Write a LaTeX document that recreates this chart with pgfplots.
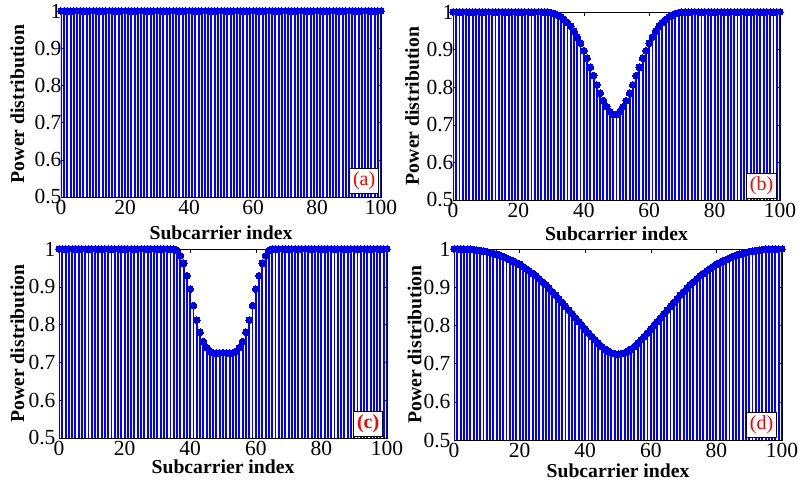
\documentclass[border=0pt]{standalone}
\usepackage{fontspec}
\setmainfont{Liberation Serif}
\usepackage{pgfplots}
\pgfplotsset{compat=1.18}
\definecolor{stemblue}{RGB}{0,0,255}
\pgfplotsset{panel/.style={
  scale only axis, anchor=south west,
  xmin=0, xmax=100, ymin=0.5, ymax=1,
  xtick={0,20,40,60,80,100}, ytick={0.5,0.6,0.7,0.8,0.9,1},
  xticklabels={0,20,40,60,80,100}, yticklabels={0.5,0.6,0.7,0.8,0.9,1},
  tick align=inside, major tick length=4pt,
  tick style={black, line width=0.6pt},
  axis line style={black, line width=0.8pt},
  ticklabel style={font=\fontsize{21.5}{24}\selectfont},
  label style={font=\fontsize{19.7}{22}\selectfont\bfseries},
  xlabel={Subcarrier index}, ylabel={Power distribution},
  every axis plot/.append style={ycomb, color=stemblue, line width=1.9pt,
    mark=*, mark size=3.4pt, mark options={fill=stemblue, draw=stemblue, line width=0pt}},
}}
\tikzset{tag/.style={draw=black, fill=white, text=red, inner sep=3.5pt, anchor=south east,
  font=\fontsize{20}{22}\selectfont, line width=0.6pt}}
\begin{document}
\begin{tikzpicture}
\useasboundingbox (0pt,0pt) rectangle (798pt,483pt);
% (a)
\begin{axis}[panel, at={(61pt,286pt)}, width=320pt, height=186pt,
  yticklabel style={xshift=4pt},
  xlabel style={at={(axis description cs:0.5,-0.231)}, anchor=base},
  ylabel style={at={(axis description cs:-0.136,0.5)}, anchor=center}]
\addplot coordinates {(0,1)(1,1)(2,1)(3,1)(4,1)(5,1)(6,1)(7,1)(8,1)(9,1)(10,1)(11,1)(12,1)(13,1)(14,1)(15,1)(16,1)(17,1)(18,1)(19,1)(20,1)(21,1)(22,1)(23,1)(24,1)(25,1)(26,1)(27,1)(28,1)(29,1)(30,1)(31,1)(32,1)(33,1)(34,1)(35,1)(36,1)(37,1)(38,1)(39,1)(40,1)(41,1)(42,1)(43,1)(44,1)(45,1)(46,1)(47,1)(48,1)(49,1)(50,1)(51,1)(52,1)(53,1)(54,1)(55,1)(56,1)(57,1)(58,1)(59,1)(60,1)(61,1)(62,1)(63,1)(64,1)(65,1)(66,1)(67,1)(68,1)(69,1)(70,1)(71,1)(72,1)(73,1)(74,1)(75,1)(76,1)(77,1)(78,1)(79,1)(80,1)(81,1)(82,1)(83,1)(84,1)(85,1)(86,1)(87,1)(88,1)(89,1)(90,1)(91,1)(92,1)(93,1)(94,1)(95,1)(96,1)(97,1)(98,1)(99,1)(100,1)};
\node[tag, xshift=-2pt, yshift=3pt] at (rel axis cs:1,0) {(a)};
\end{axis}
% (b)
\begin{axis}[panel, at={(453pt,283pt)}, width=327pt, height=188pt,
  yticklabel style={xshift=4pt},
  xlabel style={at={(axis description cs:0.5,-0.213)}, anchor=base},
  ylabel style={at={(axis description cs:-0.125,0.5)}, anchor=center}]
\addplot coordinates {(0,1)(1,1)(2,1)(3,1)(4,1)(5,1)(6,1)(7,1)(8,1)(9,1)(10,1)(11,1)(12,1)(13,1)(14,1)(15,1)(16,1)(17,1)(18,1)(19,1)(20,1)(21,1)(22,1)(23,1)(24,1)(25,1)(26,1)(27,1)(28,1)(29,0.999)(30,0.998)(31,0.996)(32,0.992)(33,0.987)(34,0.980)(35,0.972)(36,0.962)(37,0.949)(38,0.933)(39,0.917)(40,0.897)(41,0.877)(42,0.853)(43,0.831)(44,0.806)(45,0.784)(46,0.764)(47,0.748)(48,0.735)(49,0.727)(50,0.727)(51,0.735)(52,0.748)(53,0.764)(54,0.784)(55,0.806)(56,0.831)(57,0.853)(58,0.877)(59,0.897)(60,0.917)(61,0.933)(62,0.949)(63,0.962)(64,0.972)(65,0.980)(66,0.987)(67,0.992)(68,0.996)(69,0.998)(70,0.999)(71,1)(72,1)(73,1)(74,1)(75,1)(76,1)(77,1)(78,1)(79,1)(80,1)(81,1)(82,1)(83,1)(84,1)(85,1)(86,1)(87,1)(88,1)(89,1)(90,1)(91,1)(92,1)(93,1)(94,1)(95,1)(96,1)(97,1)(98,1)(99,1)(100,1)};
\node[tag, xshift=-3pt, yshift=1pt] at (rel axis cs:1,0) {(b)};
\end{axis}
% (c)
\begin{axis}[panel, at={(59pt,45pt)}, width=328pt, height=189pt,
  xlabel style={at={(axis description cs:0.5,-0.188)}, anchor=base},
  ylabel style={at={(axis description cs:-0.127,0.5)}, anchor=center}]
\addplot coordinates {(0,1)(1,1)(2,1)(3,1)(4,1)(5,1)(6,1)(7,1)(8,1)(9,1)(10,1)(11,1)(12,1)(13,1)(14,1)(15,1)(16,1)(17,1)(18,1)(19,1)(20,1)(21,1)(22,1)(23,1)(24,1)(25,1)(26,1)(27,1)(28,1)(29,1)(30,1)(31,1)(32,1)(33,1)(34,1)(35,1)(36,0.996)(37,0.982)(38,0.962)(39,0.929)(40,0.894)(41,0.850)(42,0.812)(43,0.780)(44,0.755)(45,0.739)(46,0.729)(47,0.725)(48,0.725)(49,0.725)(50,0.725)(51,0.725)(52,0.725)(53,0.725)(54,0.729)(55,0.739)(56,0.755)(57,0.780)(58,0.812)(59,0.850)(60,0.894)(61,0.929)(62,0.962)(63,0.982)(64,0.996)(65,1)(66,1)(67,1)(68,1)(69,1)(70,1)(71,1)(72,1)(73,1)(74,1)(75,1)(76,1)(77,1)(78,1)(79,1)(80,1)(81,1)(82,1)(83,1)(84,1)(85,1)(86,1)(87,1)(88,1)(89,1)(90,1)(91,1)(92,1)(93,1)(94,1)(95,1)(96,1)(97,1)(98,1)(99,1)(100,1)};
\node[tag, font=\fontsize{20}{22}\selectfont\bfseries, xshift=-4pt, yshift=1pt] at (rel axis cs:1,0) {(c)};
\end{axis}
% (d)
\begin{axis}[panel, at={(454pt,43pt)}, width=328pt, height=191pt,
  xlabel style={at={(axis description cs:0.5,-0.194)}, anchor=base},
  ylabel style={at={(axis description cs:-0.120,0.5)}, anchor=center}]
\addplot coordinates {(0,1)(1,1)(2,1)(3,1)(4,0.999)(5,0.999)(6,0.998)(7,0.997)(8,0.996)(9,0.994)(10,0.993)(11,0.991)(12,0.988)(13,0.986)(14,0.983)(15,0.980)(16,0.976)(17,0.972)(18,0.968)(19,0.964)(20,0.960)(21,0.954)(22,0.948)(23,0.942)(24,0.936)(25,0.930)(26,0.922)(27,0.914)(28,0.906)(29,0.897)(30,0.888)(31,0.879)(32,0.869)(33,0.860)(34,0.850)(35,0.840)(36,0.830)(37,0.820)(38,0.810)(39,0.800)(40,0.790)(41,0.780)(42,0.771)(43,0.762)(44,0.753)(45,0.745)(46,0.738)(47,0.732)(48,0.728)(49,0.726)(50,0.725)(51,0.726)(52,0.728)(53,0.732)(54,0.738)(55,0.745)(56,0.753)(57,0.762)(58,0.771)(59,0.780)(60,0.790)(61,0.800)(62,0.810)(63,0.820)(64,0.830)(65,0.840)(66,0.850)(67,0.860)(68,0.869)(69,0.879)(70,0.888)(71,0.897)(72,0.906)(73,0.914)(74,0.922)(75,0.930)(76,0.936)(77,0.942)(78,0.948)(79,0.954)(80,0.960)(81,0.964)(82,0.968)(83,0.972)(84,0.976)(85,0.980)(86,0.983)(87,0.986)(88,0.988)(89,0.991)(90,0.993)(91,0.994)(92,0.996)(93,0.997)(94,0.998)(95,0.999)(96,0.999)(97,1)(98,1)(99,1)(100,1)};
\node[tag, xshift=-5pt, yshift=2pt] at (rel axis cs:1,0) {(d)};
\end{axis}
\end{tikzpicture}
\end{document}
